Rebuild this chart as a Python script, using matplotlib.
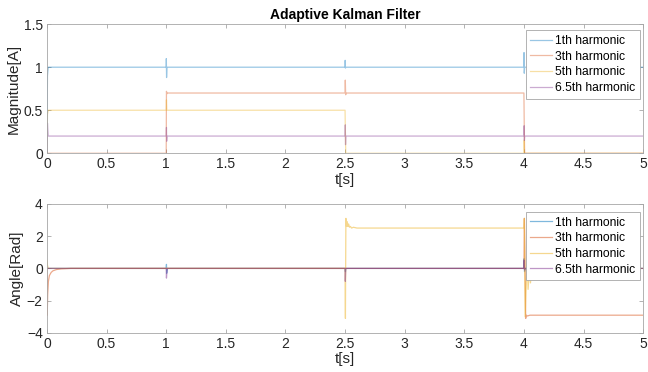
import matplotlib.pyplot as plt
import numpy as np

plt.rcParams['font.family'] = ['Liberation Sans', 'DejaVu Sans']

colors = ['#0072BD', '#D95319', '#EDB120', '#7E2F8E']
labels = ['1th harmonic', '3th harmonic', '5th harmonic', '6.5th harmonic']

# magnitude [A]
mag_t1 = [0, 0.004, 0.01, 1.0, 1.001, 1.003, 1.006, 2.5, 2.501, 2.503, 2.506, 4.0, 4.001, 4.003, 4.006, 5]
mag_v1 = [0, 0.9, 1.0, 1.0, 1.1, 0.88, 1.0, 1.0, 1.08, 0.99, 1.0, 1.0, 1.17, 0.93, 1.0, 1.0]
mag_t3 = [0, 1.0, 1.002, 1.005, 1.01, 2.5, 2.502, 2.505, 2.51, 4.0, 4.003, 4.006, 5]
mag_v3 = [0, 0, 0.72, 0.69, 0.7, 0.7, 0.85, 0.68, 0.7, 0.7, 0.3, 0, 0]
mag_t5 = [0, 0.004, 0.01, 1.0, 1.002, 1.005, 2.5, 2.503, 2.506, 4.0, 4.002, 4.005, 5]
mag_v5 = [0, 0.45, 0.5, 0.5, 0.62, 0.5, 0.5, 0.2, 0, 0, 0.15, 0, 0]
mag_t65 = [0, 0.004, 0.01, 1.0, 1.002, 1.004, 1.007, 2.5, 2.502, 2.504, 2.507, 4.0, 4.002, 4.004, 4.007, 5]
mag_v65 = [0, 0.35, 0.2, 0.2, 0.3, 0.14, 0.2, 0.2, 0.33, 0.1, 0.2, 0.2, 0.32, 0.15, 0.2, 0.2]

# angle [rad]
ang_t1 = [0, 1.0, 1.002, 1.004, 1.008, 2.5, 2.503, 2.506, 4.0, 4.002, 4.005, 4.01, 5]
ang_v1 = [0, 0, 0.25, -0.3, 0, 0, -0.2, 0, 0, 0.6, -0.2, 0, 0]
ang_t3 = [0, 0.002, 0.006, 0.012, 0.02, 0.035, 0.05, 0.08, 0.12, 0.2, 4.0, 4.004, 4.008, 4.015, 4.02, 4.03, 4.05, 5]
ang_v3 = [0, -2.9, -1.6, -0.8, -0.45, -0.25, -0.15, -0.07, -0.03, 0, 0, 3.1, 1.2, -3.1, -2.9, -2.95, -2.9, -2.9]
ang_t5 = [0, 0.004, 0.01, 2.5, 2.503, 2.507, 2.512, 2.518, 2.524, 2.53, 2.537, 2.545, 2.555, 2.57, 2.6,
          4.0, 4.004, 4.01, 4.02, 4.028, 4.035, 4.045, 4.055, 4.065, 4.075, 4.09, 4.105, 4.12, 4.14, 4.16, 4.19, 4.23, 4.3, 5]
ang_v5 = [0.5, 0.2, 0, 0, -3.1, 3.1, 2.6, 2.9, 2.6, 2.75, 2.55, 2.6, 2.5, 2.55, 2.5,
          2.5, 3.1, -3.0, -1.0, 0.7, -1.3, -0.2, -0.9, -0.1, -0.6, -0.1, -0.45, -0.05, -0.3, -0.05, -0.15, -0.02, 0, 0]
ang_t65 = [0, 1.0, 1.002, 1.005, 1.01, 2.5, 2.502, 2.506, 4.0, 4.002, 4.005, 4.01, 5]
ang_v65 = [0, 0, -0.6, -0.3, 0, 0, -0.8, 0, 0, 0.5, -0.1, 0, 0]

mag = [(mag_t1, mag_v1), (mag_t3, mag_v3), (mag_t5, mag_v5), (mag_t65, mag_v65)]
ang = [(ang_t1, ang_v1), (ang_t3, ang_v3), (ang_t5, ang_v5), (ang_t65, ang_v65)]

fig = plt.figure(figsize=(6.48, 3.72), dpi=100)
ax1 = fig.add_axes([0.0725, 0.588, 0.920, 0.347])
ax2 = fig.add_axes([0.0725, 0.105, 0.920, 0.347])


def style(ax):
    for s in ax.spines.values():
        s.set_color('#a6a6a6')
        s.set_linewidth(0.6)
    ax.tick_params(direction='in', top=True, right=True, length=3, width=0.6,
                   color='#a6a6a6', labelcolor='#262626', labelsize=10, pad=3)
    ax.set_xlim(0, 5)
    ax.set_xticks(np.arange(0, 5.01, 0.5))
    ax.set_xticklabels(['0', '0.5', '1', '1.5', '2', '2.5', '3', '3.5', '4', '4.5', '5'])
    ax.set_xlabel('t[s]', fontsize=11, color='#262626', labelpad=1)


def legend(ax, anchor):
    leg = ax.legend(loc='upper right', bbox_to_anchor=anchor, fontsize=8.7, frameon=True,
                    fancybox=False, borderaxespad=0, handlelength=1.8, handletextpad=0.25,
                    labelspacing=0.3, borderpad=0.4, framealpha=1)
    leg.get_frame().set_edgecolor('#a6a6a6')
    leg.get_frame().set_linewidth(0.6)


for (t, v), c, lab in zip(mag, colors, labels):
    ax1.plot(t, v, color=c, lw=0.9, alpha=0.4, label=lab)
style(ax1)
ax1.set_ylim(0, 1.5)
ax1.set_yticks([0, 0.5, 1, 1.5])
ax1.set_yticklabels(['0', '0.5', '1', '1.5'])
ax1.set_ylabel('Magnitude[A]', fontsize=11, color='#262626', labelpad=2)
ax1.set_title('Adaptive Kalman Filter', fontsize=10, fontweight='bold', pad=4)
legend(ax1, (0.995, 0.953))

for (t, v), c, lab in zip(ang, colors, labels):
    ax2.plot(t, v, color=c, lw=0.9, alpha=0.5, label=lab)
style(ax2)
ax2.set_ylim(-4, 4)
ax2.set_yticks([-4, -2, 0, 2, 4])
ax2.set_ylabel('Angle[Rad]', fontsize=11, color='#262626', labelpad=2)
legend(ax2, (0.995, 0.938))

plt.savefig('out.png', dpi=100)
